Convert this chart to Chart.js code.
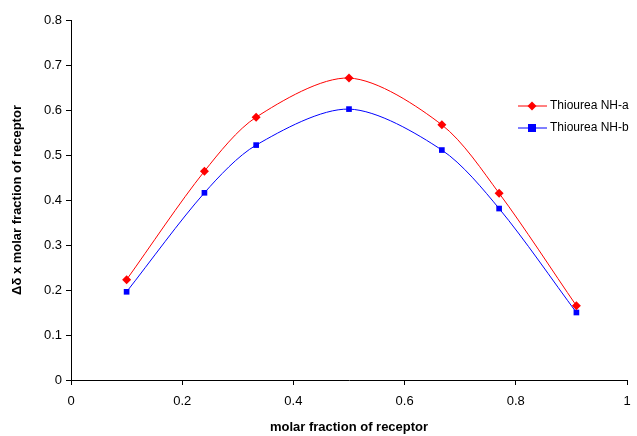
<!DOCTYPE html>
<html>
<head>
<meta charset="utf-8">
<script src="https://cdn.jsdelivr.net/npm/chart.js@4/dist/chart.umd.min.js"></script>
<style>
  html, body { margin: 0; padding: 0; background: #fff; }
  #wrap { width: 637px; height: 436px; }
</style>
</head>
<body>
<div id="wrap"><canvas id="chart" width="637" height="436"></canvas></div>
<script>
// ── Data ──
const molarFraction = [0.1, 0.24, 0.333, 0.5, 0.667, 0.77, 0.909];
const nhA = [0.223, 0.464, 0.584, 0.671, 0.567, 0.415, 0.165];
const nhB = [0.196, 0.416, 0.522, 0.602, 0.511, 0.381, 0.150];
const seriesNames = ["Thiourea NH-a", "Thiourea NH-b"];
const xTicks = [0, 0.2, 0.4, 0.6, 0.8, 1];
const yTicks = [0, 0.1, 0.2, 0.3, 0.4, 0.5, 0.6, 0.7, 0.8];

const FONT = "'Liberation Sans', Arial, sans-serif";

function toPoints(xs, ys) {
  return xs.map((x, i) => ({ x, y: ys[i] }));
}

// ── Legend drawn inside the plot, like the original ──
const insideLegend = {
  id: "insideLegend",
  afterDraw(chart) {
    const ctx = chart.ctx;
    ctx.save();
    ctx.font = "12px " + FONT;
    ctx.textBaseline = "middle";
    chart.data.datasets.forEach((ds, i) => {
      const y = 106 + i * 22;
      ctx.strokeStyle = ds.borderColor;
      ctx.lineWidth = 1;
      ctx.beginPath();
      ctx.moveTo(518, y);
      ctx.lineTo(547, y);
      ctx.stroke();
      ctx.fillStyle = ds.backgroundColor;
      ctx.beginPath();
      if (ds.pointStyle === "rectRot") {
        ctx.moveTo(532, y - 4.5);
        ctx.lineTo(536.5, y);
        ctx.lineTo(532, y + 4.5);
        ctx.lineTo(527.5, y);
        ctx.closePath();
      } else {
        ctx.rect(528, y - 4, 8, 8);
      }
      ctx.fill();
      ctx.fillStyle = "#000";
      ctx.fillText(ds.label, 550, y);
    });
    ctx.restore();
  },
};

new Chart(document.getElementById("chart"), {
  type: "scatter",
  data: {
    datasets: [
      {
        label: seriesNames[0],
        data: toPoints(molarFraction, nhA),
        showLine: true,
        borderColor: "#ff0000",
        backgroundColor: "#ff0000",
        borderWidth: 1,
        pointStyle: "rectRot",
        pointRadius: 4.5,
        pointBorderWidth: 0,
        tension: 0.3,
      },
      {
        label: seriesNames[1],
        data: toPoints(molarFraction, nhB),
        showLine: true,
        borderColor: "#0000ff",
        backgroundColor: "#0000ff",
        borderWidth: 1,
        pointStyle: "rect",
        pointRadius: 4,
        pointBorderWidth: 0,
        tension: 0.3,
      },
    ],
  },
  options: {
    responsive: false,
    animation: false,
    layout: { padding: { top: 20, right: 10, left: 0, bottom: 0 } },
    plugins: {
      legend: { display: false },
      tooltip: { enabled: false },
    },
    scales: {
      x: {
        type: "linear",
        min: 0,
        max: 1,
        afterBuildTicks: (s) => { s.ticks = xTicks.map(v => ({ value: v })); },
        afterFit: (s) => { s.height = 56; s.paddingRight = 0; s.paddingLeft = 0; },
        grid: { drawOnChartArea: false, drawTicks: true, tickLength: 5, color: "#000" },
        border: { color: "#000", width: 1 },
        ticks: {
          color: "#000",
          font: { family: FONT, size: 13 },
          padding: 9,
          maxRotation: 0,
          callback: (v) => String(v),
        },
        title: {
          display: true,
          text: "molar fraction of receptor",
          color: "#000",
          font: { family: FONT, size: 13, weight: "bold" },
          padding: { top: 4, bottom: 1 },
        },
      },
      y: {
        type: "linear",
        min: 0,
        max: 0.8,
        afterBuildTicks: (s) => { s.ticks = yTicks.map(v => ({ value: v })); },
        afterFit: (s) => { s.width = 71; },
        grid: { drawOnChartArea: false, drawTicks: true, tickLength: 5, color: "#000" },
        border: { color: "#000", width: 1 },
        ticks: {
          color: "#000",
          font: { family: FONT, size: 13 },
          padding: 4,
          callback: (v) => String(v),
        },
        title: {
          display: true,
          text: "Δδ x molar fraction of receptor",
          color: "#000",
          font: { family: FONT, size: 13, weight: "bold" },
          padding: { top: 10, bottom: 4 },
        },
      },
    },
  },
  plugins: [insideLegend],
});
</script>
</body>
</html>
